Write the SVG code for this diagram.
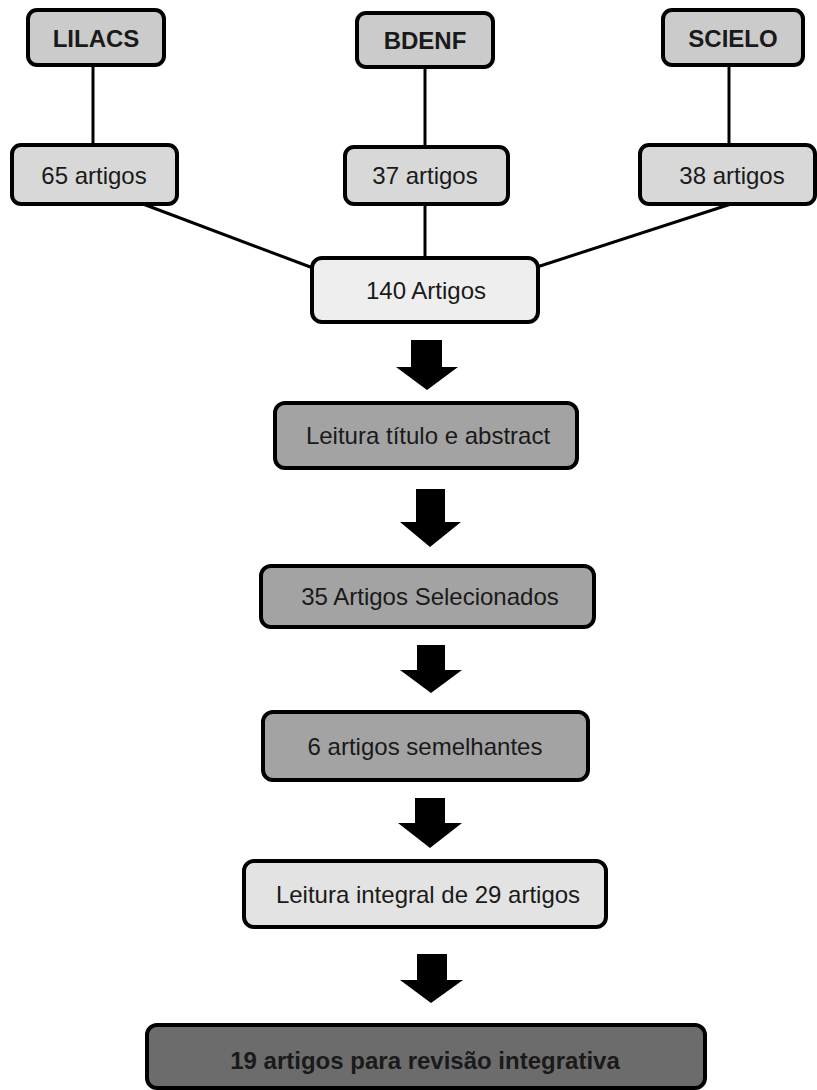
<svg xmlns="http://www.w3.org/2000/svg" width="817" height="1090" viewBox="0 0 817 1090">
<style>
.box{stroke:#000;stroke-width:4}
.db{fill:#cbcbcb}
.cnt{fill:#d8d8d8}
.light{fill:#eeeeee}
.mid{fill:#a3a3a3}
.pale{fill:#e3e3e3}
.dark{fill:#6c6c6c}
text{font-family:"Liberation Sans",Arial,sans-serif;font-size:24px;fill:#1a1a1a;text-anchor:middle}
.b{font-weight:bold}
.ln{stroke:#000;stroke-width:3;fill:none}
.arr{fill:#000}
</style>
<rect width="817" height="1090" fill="#fff"/>
<g id="connectors">
<line class="ln" x1="93" y1="65" x2="93" y2="145"/>
<line class="ln" x1="425" y1="67" x2="425" y2="147"/>
<line class="ln" x1="729" y1="65" x2="729" y2="145"/>
<line class="ln" x1="143" y1="204" x2="313" y2="268"/>
<line class="ln" x1="425" y1="204" x2="425" y2="258"/>
<line class="ln" x1="731" y1="204" x2="537" y2="267"/>
<polygon class="arr" points="411,340 442,340 442,367 458,367 427,390 396,367 411,367"/>
<polygon class="arr" points="416,489 445,489 445,522 461,522 430,547 400,522 416,522"/>
<polygon class="arr" points="417,645 445,645 445,670 462,670 431,693 400,670 417,670"/>
<polygon class="arr" points="415,798 445,798 445,823 462,823 430,848 398,823 415,823"/>
<polygon class="arr" points="417,954 447,954 447,980 463,980 431,1003 400,980 417,980"/>
</g>
<g id="lilacs"><rect class="box db" x="28" y="10" width="136" height="55" rx="9"/><text class="b" x="96" y="47">LILACS</text></g>
<g id="bdenf"><rect class="box db" x="357" y="13" width="136" height="54" rx="9"/><text class="b" x="425" y="49">BDENF</text></g>
<g id="scielo"><rect class="box db" x="663" y="10" width="140" height="55" rx="9"/><text class="b" x="733" y="47">SCIELO</text></g>
<g id="n65"><rect class="box cnt" x="12" y="145" width="165" height="59" rx="9"/><text x="94" y="184">65 artigos</text></g>
<g id="n37"><rect class="box cnt" x="345" y="147" width="163" height="57" rx="9"/><text x="425" y="184">37 artigos</text></g>
<g id="n38"><rect class="box cnt" x="640" y="145" width="175" height="59" rx="9"/><text x="732" y="184">38 artigos</text></g>
<g id="n140"><rect class="box light" x="312" y="258" width="226" height="64" rx="10"/><text x="426" y="299">140 Artigos</text></g>
<g id="titulo"><rect class="box mid" x="275" y="403" width="302" height="65" rx="10"/><text x="428" y="444">Leitura título e abstract</text></g>
<g id="sel35"><rect class="box mid" x="261" y="566" width="333" height="61" rx="10"/><text x="430" y="605">35 Artigos Selecionados</text></g>
<g id="sem6"><rect class="box mid" x="263" y="712" width="325" height="68" rx="10"/><text x="425" y="755">6 artigos semelhantes</text></g>
<g id="integral"><rect class="box pale" x="244" y="861" width="362" height="66" rx="10"/><text x="428" y="903">Leitura integral de 29 artigos</text></g>
<g id="final"><rect class="box dark" x="147" y="1025" width="558" height="63" rx="10"/><text class="b" x="425" y="1069">19 artigos para revisão integrativa</text></g>
</svg>
